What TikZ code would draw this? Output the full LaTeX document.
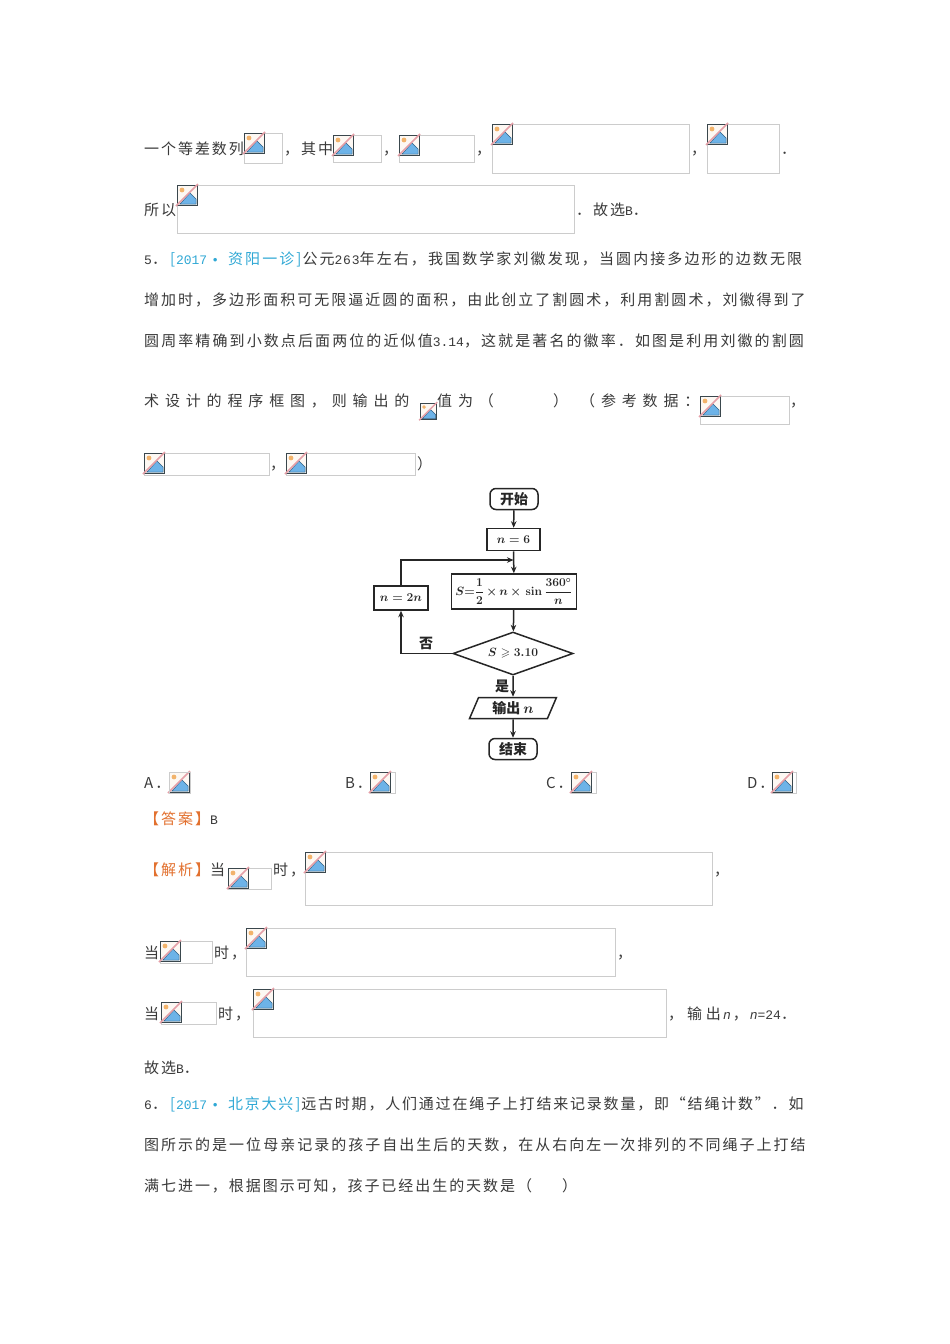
\documentclass[tikz,border=0pt]{standalone}
\usepackage{amssymb}
\usepackage[no-math]{fontspec}
\usetikzlibrary{shapes.geometric,arrows.meta}
\setmainfont{Noto Sans CJK SC}
\newfontfamily\lat{Liberation Mono}
\newfontfamily\sps[LetterSpace=13]{Noto Sans CJK SC}
\newfontfamily\spt[LetterSpace=12]{Noto Sans CJK SC}
\newfontfamily\spd[LetterSpace=13.4]{Noto Sans CJK SC}
\newfontfamily\spc[LetterSpace=14]{Noto Sans CJK SC}
\newfontfamily\spw[LetterSpace=39]{Noto Sans CJK SC}
\newfontfamily\spm[LetterSpace=26]{Noto Sans CJK SC}
\definecolor{ink}{HTML}{3A3A3A}
\definecolor{cyanref}{HTML}{2FA8D5}
\definecolor{orangeref}{HTML}{E2702E}
\definecolor{framegray}{HTML}{CCCCCC}
\definecolor{icbg}{HTML}{FDF8F3}
\definecolor{icsun}{HTML}{F2B36B}
\definecolor{icmt}{HTML}{6DB3E8}
\definecolor{icmtl}{HTML}{2E5F85}
\definecolor{icpink}{HTML}{E5A0A8}
\definecolor{icline}{HTML}{3A474D}
\newcommand{\la}[1]{{\lat\fontsize{13}{13}\selectfont #1}}
\newcommand{\cb}[1]{\textcolor{cyanref}{#1}}
\newcommand{\ob}[1]{\textcolor{orangeref}{#1}}
\newcommand{\brk}[3]{%
 \begin{scope}[shift={(#1,#2)},scale=#3]
  \fill[icbg] (0,0) rectangle (20,20);
  \fill[icsun] (5,5) circle (2.4);
  \fill[icmt,draw=icmtl,line width=.5pt] (3,19) -- (13,8) -- (19,14) -- (19,19) -- cycle;
  \draw[icline,line width=1pt] (0,0) rectangle (20,20);
  \draw[icpink,line width=1.5pt] (-1,21) -- (21,-1);
 \end{scope}}
\newcommand{\frm}[4]{\draw[framegray,line width=.7pt] (#1,#2) rectangle ([xshift=-.7pt,yshift=.7pt]#3,#4); \brk{#1}{#2}{1}}
\tikzset{
 txt/.style={anchor=base west,yshift=-6.3pt,inner sep=0pt,text=ink,font=\fontsize{15}{15}\selectfont\sps},
 fbox/.style={draw=black!85,line width=1.5pt,inner sep=0pt,text=black!85,font=\fontsize{14}{14}\selectfont\bfseries\boldmath},
 mathfont/.style={font=\fontsize{12}{12}\selectfont\bfseries\boldmath},
 flowline/.style={draw=black!85,line width=1.5pt,-{Stealth[length=6.5pt,width=5.5pt]}},
 termbox/.style={fbox,rounded corners=6pt,minimum width=48pt,minimum height=21pt},
 procbox/.style={fbox,mathfont,minimum height=22pt},
 decbox/.style={fbox,mathfont,diamond,aspect=2.8,minimum width=120pt,minimum height=43pt},
 iobox/.style={fbox,trapezium,trapezium left angle=68,trapezium right angle=112,trapezium stretches=true,minimum width=87pt,minimum height=21pt},
 flowlabel/.style={inner sep=0pt,text=black!85,font=\fontsize{14}{14}\selectfont\bfseries}
}
\begin{document}
\begin{tikzpicture}[x=1pt,y=-1pt]
\useasboundingbox (0,0) rectangle (950,1344);
\fill[white] (0,0) rectangle (950,1344);
% line 1
\node[txt] (l1a) at (144,148) {一个等差数列};
\frm{244}{133}{283}{164}
\node[txt] (l1b) at (284,148) {，其中};
\frm{333}{135}{382}{163}
\node[txt] (l1c) at (383,148) {，};
\frm{399}{135}{475}{163}
\node[txt] (l1d) at (476,148) {，};
\frm{492}{124}{690}{174}
\node[txt] (l1e) at (691,148) {，};
\frm{707}{124}{780}{174}
\node[txt] (l1f) at (781,148) {．};
% line 2
\node[txt] (l2a) at (144,209) {所以};
\frm{177}{185}{575}{234}
\node[txt] (l2b) at (576,209) {．故选\la{B}．};
% para 5
\node[txt] (l3) at (144,258) {\spc\la{5}．\hspace{3pt}\cb{[\hspace{1pt}\la{2017}\hspace{4pt}\la{•}\hspace{9pt}资阳一诊]}\hspace{1pt}公元\la{2\kern.8pt 6\kern.8pt 3}年左右，我国数学家刘徽发现，当圆内接多边形的边数无限};
\node[txt] (l4) at (144,299) {\spd 增加时，多边形面积可无限逼近圆的面积，由此创立了割圆术，利用割圆术，刘徽得到了};
\node[txt] (l5) at (144,340) {\spc 圆周率精确到小数点后面两位的近似值\la{3.14}，这就是著名的徽率．如图是利用刘徽的割圆};
\node[txt] (l6a) at (144,400) {\spw 术设计的程序框图，则输出的};
\brk{420}{403}{.82}
\node[txt] (l6b) at (437,400) {\spw 值为（};
\node[txt] (l6c) at (553,400) {）};
\node[txt] (l6d) at (580,400) {\spw （参考数据：};
\frm{700}{396}{790}{425}
\node[txt] (l6e) at (790,400) {，};
\frm{144}{453}{270}{476}
\node[txt] (l7a) at (270,463) {，};
\frm{286}{453}{416}{476}
\node[txt] (l7b) at (417,463) {）};
% flowchart
\node[termbox] (start) at (514,499) {开始};
\node[procbox,minimum width=53pt] (init) at (513.5,539.5) {$n=6$};
\node[procbox,minimum width=125pt,minimum height=35pt] (calc) at (514,591.5) {$\displaystyle S{=}\frac{1}{2}\,{\times}\,n\,{\times}\,\sin\frac{360^\circ}{n}$};
\node[procbox,minimum width=54pt,minimum height=24pt] (dbl) at (401,598) {$n=2n$};
\node[decbox] (test) at (513,653.5) {$S\geqslant 3.10$};
\node[iobox] (out) at (513,708) {输出 $n$};
\node[termbox] (stop) at (513,749) {结束};
\coordinate (join) at (513.5,560);
\coordinate (loopturn) at (dbl.north |- join);
\coordinate (noturn) at (dbl.south |- test.west);
\draw[flowline] (start) -- (init);
\draw[flowline] (init) -- (calc);
\draw[flowline] (dbl.north) -- (loopturn) -- (join);
\draw[flowline] (calc) -- (test);
\draw[flowline] (test.west) -- (noturn) -- (dbl.south);
\draw[flowline] (test) -- (out);
\draw[flowline] (out) -- (stop);
\node[flowlabel] (no) at (426,643) {否};
\node[flowlabel] (yes) at (502,686) {是};
% options
\node[txt] (oa) at (144,782) {A．};
\brk{169}{772}{1}
\draw[framegray,line width=.7pt] (169,772) rectangle (190,793);
\node[txt] (ob) at (345,782) {B．};
\draw[framegray,line width=.7pt] (370,772) rectangle (395,793);
\brk{370}{772}{1}
\node[txt] (oc) at (546,782) {C．};
\draw[framegray,line width=.7pt] (571,772) rectangle (596,793);
\brk{571}{772}{1}
\node[txt] (od) at (747,782) {D．};
\draw[framegray,line width=.7pt] (772,772) rectangle (796,793);
\brk{772}{772}{1}
% answer
\node[txt] (ans) at (144,818) {\ob{【答案】}\la{B}};
\node[txt] (ana) at (144,869) {\ob{【解析】}当};
\frm{228}{868}{272}{890}
\node[txt] (anb) at (273,869) {时，};
\frm{305}{852}{713}{906}
\node[txt] (anc) at (714,869) {，};
\node[txt] (w1) at (144,952) {当};
\frm{160}{941}{213}{964}
\node[txt] (w2) at (214,952) {时，};
\frm{246}{928}{616}{977}
\node[txt] (w3) at (617,952) {，};
\node[txt] (v1) at (144,1013) {当};
\frm{161}{1002}{217}{1025}
\node[txt] (v2) at (218,1013) {时，};
\frm{253}{989}{667}{1038}
\node[txt] (v3) at (668,1013) {\spm ，输出\hspace{2pt}\la{\itshape n}\hspace{2pt}，\hspace{2pt}\la{\itshape n}\la{=24}．};
\node[txt] (v4) at (144,1067) {故选\la{B}．};
% para 6
\node[txt] (p1) at (144,1103) {\spt\la{6}．\hspace{3pt}\cb{[\hspace{1pt}\la{2017}\hspace{4pt}\la{•}\hspace{9pt}北京大兴]}\hspace{1pt}远古时期，人们通过在绳子上打结来记录数量，即“结绳计数”．如};
\node[txt] (p2) at (144,1144) {\spd 图所示的是一位母亲记录的孩子自出生后的天数，在从右向左一次排列的不同绳子上打结};
\node[txt] (p3) at (144,1185) {满七进一，根据图示可知，孩子已经出生的天数是（\hspace{30pt}）};
\end{tikzpicture}
\end{document}
